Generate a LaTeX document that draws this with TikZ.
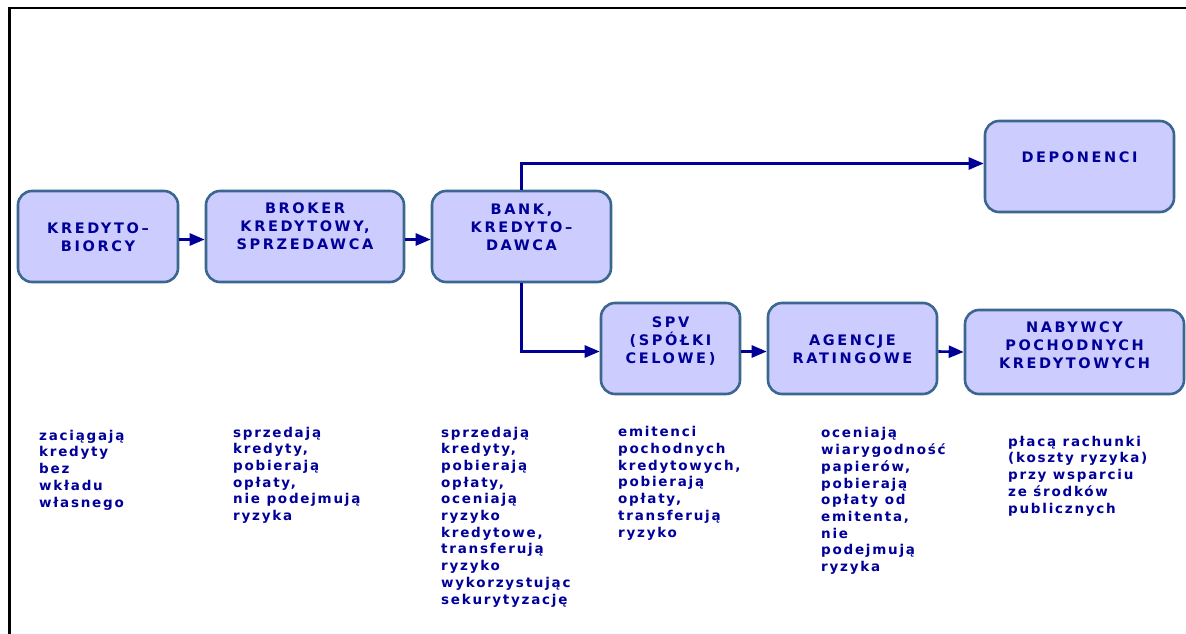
\documentclass[tikz,border=0pt]{standalone}
\usepackage{fontspec}
\setmainfont{DejaVu Sans}
\newfontfamily\firmfont[LetterSpace=18]{DejaVu Sans}
\newfontfamily\notefont[LetterSpace=13]{DejaVu Sans}
\usetikzlibrary{arrows.meta}
\definecolor{firmblue}{HTML}{000099}
\definecolor{firmfill}{HTML}{CCCCFF}
\definecolor{firmedge}{HTML}{3A6690}

\begin{document}
\begin{tikzpicture}[x=1pt, y=-1pt,
      firm/.style={rectangle, rounded corners=14pt, draw=firmedge, line width=2.6pt, fill=firmfill, inner sep=0pt, minimum height=91pt},
      firmlabel/.style={align=center, text=firmblue, inner sep=0pt, anchor=base, font=\firmfont\bfseries\fontsize{14.5}{18}\selectfont},
      note/.style={align=left, text=firmblue, inner sep=0pt, anchor=base west, font=\notefont\bfseries\fontsize{13.5}{16.7}\selectfont},
      arrow/.style={-{Triangle[length=15pt, width=12pt]}, line width=2.6pt, firmblue},
    ]
    \useasboundingbox (0,0) rectangle (1186,634);
    \draw[line width=2.6pt, line cap=rect] (9.5,640) -- (9.5,8) -- (1190,8);

    % upper row (labels placed by their last baseline)
    \node[firm, minimum width=160pt] (kb) at (98,236.5) {};
    \node[firmlabel] (kbl) at (98,251) {KREDYTO–\\BIORCY};
    \node[firm, minimum width=198pt] (broker) at (305,236.5) {};
    \node[firmlabel] (brokerl) at (305,249) {BROKER\\KREDYTOWY,\\SPRZEDAWCA};
    \node[firm, minimum width=179pt] (bank) at (521.5,236.5) {};
    \node[firmlabel] (bankl) at (521.5,250) {BANK,\\KREDYTO–\\DAWCA};
    \node[firm, minimum width=189pt] (dep) at (1079.5,166.5) {};
    \node[firmlabel] (depl) at (1079.5,162) {DEPONENCI};

    % lower row
    \node[firm, minimum width=139pt] (spv) at (670.5,348.5) {};
    \node[firmlabel] (spvl) at (670.5,363) {SPV\\(SPÓŁKI\\CELOWE)};
    \node[firm, minimum width=169pt] (agencje) at (852.5,348.5) {};
    \node[firmlabel] (agencjel) at (852.5,363) {AGENCJE\\RATINGOWE};
    \node[firm, minimum width=219pt, minimum height=84pt] (nabywcy) at (1074.5,352) {};
    \node[firmlabel] (nabywcyl) at (1074.5,368) {NABYWCY\\POCHODNYCH\\KREDYTOWYCH};

    \draw[arrow] ([yshift=-3pt]kb.east) -- ([yshift=-3pt]broker.west);
    \draw[arrow] ([yshift=-3pt]broker.east) -- ([yshift=-3pt]bank.west);
    \draw[arrow] (bank.north) |- ([yshift=3pt]dep.west);
    \draw[arrow] (bank.south) |- ([yshift=-3pt]spv.west);
    \draw[arrow] ([yshift=-3pt]spv.east) -- ([yshift=-3pt]agencje.west);
    \draw[arrow] ([yshift=-3pt]agencje.east) -- (nabywcy.west);

    % descriptions
    \node[note] (n1) at (39,507) {zaciągają\\kredyty\\bez\\wkładu\\własnego};
    \node[note] (n2) at (233,520.5) {sprzedają\\kredyty,\\pobierają\\opłaty,\\nie podejmują\\ryzyka};
    \node[note] (n3) at (441,604) {sprzedają\\kredyty,\\pobierają\\opłaty,\\oceniają\\ryzyko\\kredytowe,\\transferują\\ryzyko\\wykorzystując\\sekurytyzację};
    \node[note] (n4) at (618,537) {emitenci\\pochodnych\\kredytowych,\\pobierają\\opłaty,\\transferują\\ryzyko};
    \node[note] (n5) at (821,571.5) {oceniają\\wiarygodność\\papierów,\\pobierają\\opłaty od\\emitenta,\\nie\\podejmują\\ryzyka};
    \node[note] (n6) at (1008,513) {płacą rachunki\\(koszty ryzyka)\\przy wsparciu\\ze środków\\publicznych};
  \end{tikzpicture}
\end{document}
